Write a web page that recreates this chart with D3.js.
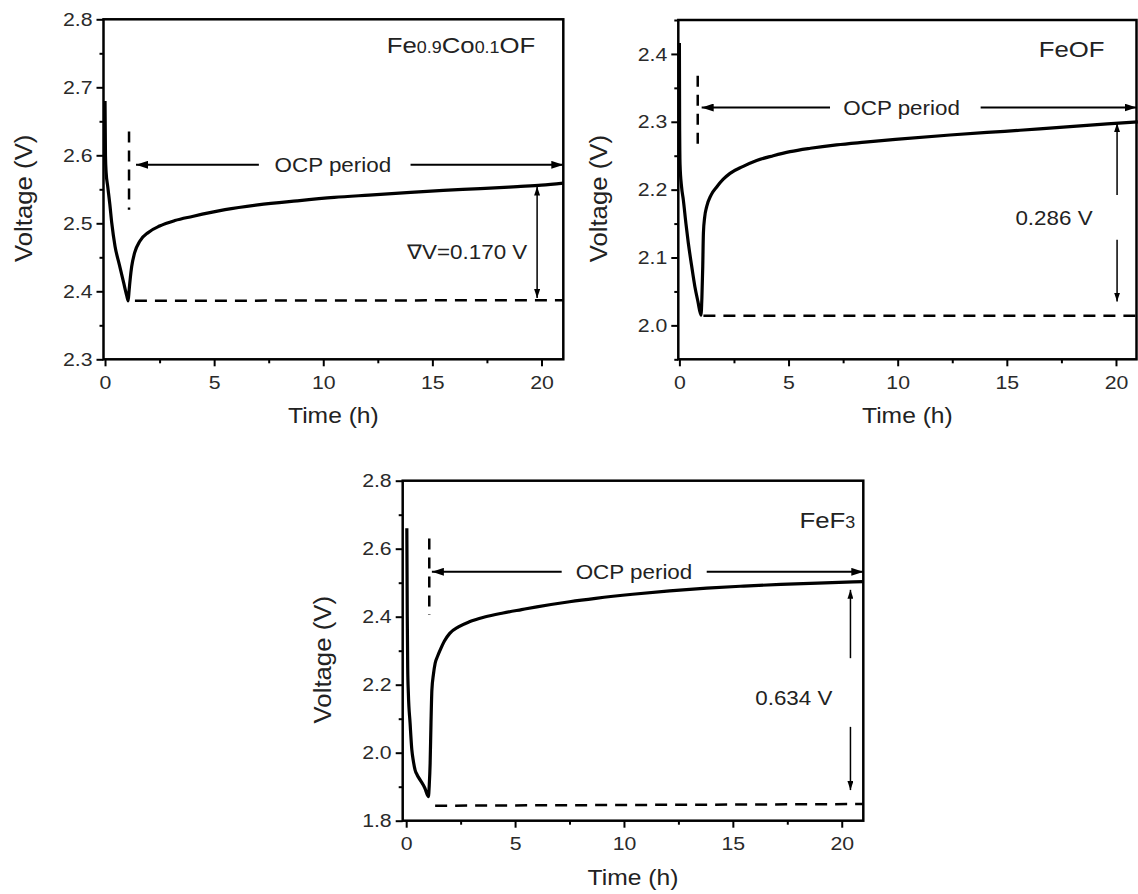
<!DOCTYPE html>
<html>
<head>
<meta charset="utf-8">
<script src="https://cdn.jsdelivr.net/npm/d3@7"></script>
<style>
  body { margin: 0; background: #fff; }
  svg { display: block; font-family: 'Liberation Sans', Arial, sans-serif; }
</style>
</head>
<body>
<div id="root"></div>
<script>
// sample labels, split in normal / small parts
const feCoLabel = [['Fe', false], ['0.9', true], ['Co', false], ['0.1', true], ['OF', false]]
const feofLabel = [['FeOF', false]]
const fef3Label = [['FeF', false], ['3', true]]

const ocpLabel = 'OCP period'
const deltaLabels = ['\u2207V=0.170 V', '0.286 V', '0.634 V']

// axis ticks
const xTicks = [0, 5, 10, 15, 20]
const xMinorTicks = [2.5, 7.5, 12.5, 17.5]
const feCoYTicks = [2.3, 2.4, 2.5, 2.6, 2.7, 2.8]
const feCoYMinor = [2.35, 2.45, 2.55, 2.65, 2.75]
const feofYTicks = [2.0, 2.1, 2.2, 2.3, 2.4]
const feofYMinor = [1.95, 2.05, 2.15, 2.25, 2.35, 2.45]
const fef3YTicks = [1.8, 2.0, 2.2, 2.4, 2.6, 2.8]
const fef3YMinor = [1.9, 2.1, 2.3, 2.5, 2.7]

// Fe0.9Co0.1OF voltage vs time
const feCoTime = [0, 0.02, 0.05, 0.12, 0.22, 0.31, 0.46, 0.65, 0.85, 1.0, 1.06, 1.1, 1.16, 1.22, 1.35, 1.6, 2.0, 2.5, 3.2, 4.0, 5.5, 7.0, 8.8, 10.5, 12.1, 14.0, 15.5, 17.2, 18.9, 20.0, 21.0]
const feCoVoltage = [2.680, 2.600, 2.575, 2.555, 2.528, 2.500, 2.466, 2.440, 2.413, 2.393, 2.386, 2.400, 2.420, 2.436, 2.456, 2.474, 2.487, 2.496, 2.504, 2.510, 2.520, 2.527, 2.533, 2.538, 2.5415, 2.5455, 2.5485, 2.551, 2.554, 2.556, 2.559]

// FeOF voltage vs time
const feofTime = [0, 0.01, 0.03, 0.1, 0.18, 0.3, 0.41, 0.55, 0.71, 0.85, 0.99, 1.03, 1.07, 1.1, 1.16, 1.25, 1.45, 1.71, 2.0, 2.32, 2.9, 3.54, 4.3, 5.07, 6.0, 7.2, 8.5, 9.9, 12.4, 14.9, 16.5, 18.2, 19.6, 21.0]
const feofVoltage = [2.416, 2.300, 2.237, 2.204, 2.185, 2.150, 2.121, 2.090, 2.057, 2.035, 2.015, 2.040, 2.087, 2.136, 2.160, 2.175, 2.192, 2.204, 2.215, 2.224, 2.234, 2.243, 2.250, 2.256, 2.261, 2.266, 2.270, 2.274, 2.2805, 2.286, 2.2895, 2.2935, 2.297, 2.300]

// FeF3 voltage vs time
const fef3Time = [0.03, 0.05, 0.07, 0.1, 0.18, 0.26, 0.33, 0.41, 0.5, 0.64, 0.85, 1.02, 1.06, 1.1, 1.14, 1.18, 1.25, 1.33, 1.45, 1.56, 1.75, 2.0, 2.4, 2.9, 3.6, 4.45, 5.3, 6.0, 7.5, 8.7, 10.4, 12.1, 13.8, 15.5, 17.2, 18.9, 21.0]
const fef3Voltage = [2.660, 2.400, 2.250, 2.175, 2.086, 2.008, 1.975, 1.949, 1.935, 1.920, 1.897, 1.871, 1.905, 1.969, 2.090, 2.184, 2.230, 2.263, 2.285, 2.302, 2.328, 2.351, 2.370, 2.385, 2.399, 2.411, 2.421, 2.429, 2.444, 2.454, 2.466, 2.476, 2.484, 2.490, 2.495, 2.499, 2.503]

// dashed reference levels (time, voltage)
const feCoBase = [[1.37, 2.386], [21.0, 2.387]]
const feofBase = [[1.1, 2.014], [20.94, 2.014]]
const fef3Base = [[1.33, 1.844], [20.99, 1.849]]

const panels = [
  {
    label: feCoLabel,
    delta: deltaLabels[0],
    time: feCoTime,
    voltage: feCoVoltage,
    base: feCoBase,
    yTicks: feCoYTicks,
    yMinor: feCoYMinor,
    left: 103.5, top: 19.3, width: 459.8, height: 340,
    xDomain: [-0.07, 21.0],
    yDomain: [2.3, 2.8],
    labelPos: { dx: -28, dy: 34 },
    marker: { t: 1.1, v: [2.52, 2.635] },
    ocp: { v: 2.586, tip: 1.42, leftEnd: 7.05, text: 10.44, rightStart: 14.0 },
    arrow: { t: 19.8, parts: [[2.39, 2.554]] },
    deltaPos: { t: 16.6, v: 2.458 }
  },
  {
    label: feofLabel,
    delta: deltaLabels[1],
    time: feofTime,
    voltage: feofVoltage,
    base: feofBase,
    yTicks: feofYTicks,
    yMinor: feofYMinor,
    left: 678.3, top: 20, width: 458.2, height: 339.3,
    xDomain: [-0.05, 20.94],
    yDomain: [1.95, 2.45],
    labelPos: { dx: -32, dy: 37 },
    marker: { t: 0.84, v: [2.256, 2.368] },
    ocp: { v: 2.321, tip: 1.02, leftEnd: 6.9, text: 10.18, rightStart: 13.8 },
    arrow: { t: 20.05, parts: [[2.192, 2.298], [2.126, 2.035]] },
    deltaPos: { t: 17.16, v: 2.158 }
  },
  {
    label: fef3Label,
    delta: deltaLabels[2],
    time: fef3Time,
    voltage: fef3Voltage,
    base: fef3Base,
    yTicks: fef3YTicks,
    yMinor: fef3YMinor,
    left: 402.7, top: 480.7, width: 460.6, height: 340,
    xDomain: [-0.16, 20.99],
    yDomain: [1.8, 2.8],
    labelPos: { dx: -8, dy: 47 },
    marker: { t: 1.06, v: [2.405, 2.63] },
    ocp: { v: 2.532, tip: 1.18, leftEnd: 7.14, text: 10.46, rightStart: 13.8 },
    arrow: { t: 20.4, parts: [[2.278, 2.479], [2.076, 1.89]] },
    deltaPos: { t: 17.8, v: 2.16 }
  }
]

// the scanned figure is a bit wider than tall, stretch text the same way
const STRETCH = 1.12

const svg = d3.select('#root')
  .append('svg')
  .attr('width', 1138)
  .attr('height', 894)

const defs = svg.append('defs')
function addMarker (id, w, h, orient) {
  defs.append('marker')
    .attr('id', id)
    .attr('viewBox', `0 0 ${w} ${h}`)
    .attr('refX', w)
    .attr('refY', h / 2)
    .attr('markerWidth', w)
    .attr('markerHeight', h)
    .attr('markerUnits', 'userSpaceOnUse')
    .attr('orient', orient)
    .append('path')
    .attr('d', `M0,0 L${w},${h / 2} L0,${h} Z`)
    .attr('fill', '#000')
}
addMarker('arrowBig', 12, 8, 'auto')
addMarker('arrowSmall', 9, 6, 'auto')
addMarker('arrowSmallStart', 9, 6, 'auto-start-reverse')

// text placed at (x, y), widened like the source scan
function stretchedText (sel, x, y) {
  return sel.append('text')
    .attr('transform', `translate(${x},${y}) scale(${STRETCH},1)`)
}

function styleAxis (sel) {
  sel.select('.domain').remove()
  sel.selectAll('.tick line')
    .attr('stroke', '#000')
    .attr('stroke-width', 2)
  sel.selectAll('.tick text')
    .attr('fill', '#2a2a2a')
    .style('font-size', '19px')
    .style('font-family', "'Liberation Sans', Arial, sans-serif")
}

function drawPanel (p) {
  const bottom = p.top + p.height
  const right = p.left + p.width
  const x = d3.scaleLinear().domain(p.xDomain).range([p.left, right])
  const y = d3.scaleLinear().domain(p.yDomain).range([bottom, p.top])
  const g = svg.append('g')

  // axes, majors and minors
  g.append('g')
    .attr('transform', `translate(0,${bottom})`)
    .call(d3.axisBottom(x).tickValues(xMinorTicks).tickSize(4).tickFormat(''))
    .call(styleAxis)
  const xAxis = g.append('g')
    .attr('transform', `translate(0,${bottom})`)
    .call(d3.axisBottom(x).tickValues(xTicks).tickSize(7).tickPadding(9).tickFormat(d3.format('d')))
    .call(styleAxis)
  xAxis.selectAll('.tick text')
    .attr('transform', `scale(${STRETCH},1)`)
    .attr('x', 0)
  g.append('g')
    .attr('transform', `translate(${p.left},0)`)
    .call(d3.axisLeft(y).tickValues(p.yMinor).tickSize(4).tickFormat(''))
    .call(styleAxis)
  const yAxis = g.append('g')
    .attr('transform', `translate(${p.left},0)`)
    .call(d3.axisLeft(y).tickValues(p.yTicks).tickSize(7).tickPadding(4).tickFormat(d3.format('.1f')))
    .call(styleAxis)
  yAxis.selectAll('.tick text')
    .attr('x', null)
    .attr('transform', `translate(-11,0) scale(${STRETCH},1)`)

  g.append('rect')
    .attr('x', p.left)
    .attr('y', p.top)
    .attr('width', p.width)
    .attr('height', p.height)
    .attr('fill', 'none')
    .attr('stroke', '#000')
    .attr('stroke-width', 2.5)

  // axis titles
  stretchedText(g, (p.left + right) / 2, bottom + 64)
    .attr('text-anchor', 'middle')
    .attr('fill', '#222')
    .style('font-size', '22px')
    .text('Time (h)')
  g.append('text')
    .attr('transform', `translate(${p.left - 80},${(p.top + bottom) / 2 + 9}) rotate(-90) scale(1.12,1.08)`)
    .attr('text-anchor', 'middle')
    .attr('dy', '0.35em')
    .attr('fill', '#222')
    .style('font-size', '23px')
    .text('Voltage (V)')

  const line = d3.line()
    .x(d => x(d[0]))
    .y(d => y(d[1]))
  const smooth = d3.line()
    .x(d => x(d[0]))
    .y(d => y(d[1]))
    .curve(d3.curveMonotoneX)

  // voltage curve
  g.append('path')
    .datum(d3.zip(p.time, p.voltage))
    .attr('d', smooth)
    .attr('fill', 'none')
    .attr('stroke', '#000')
    .attr('stroke-width', 3.2)
    .attr('stroke-linejoin', 'round')

  // dashed lines
  g.append('path')
    .datum(p.base)
    .attr('d', line)
    .attr('fill', 'none')
    .attr('stroke', '#000')
    .attr('stroke-width', 2.5)
    .attr('stroke-dasharray', '12,8')
  g.append('path')
    .datum([[p.marker.t, p.marker.v[1]], [p.marker.t, p.marker.v[0]]])
    .attr('d', line)
    .attr('fill', 'none')
    .attr('stroke', '#000')
    .attr('stroke-width', 2.5)
    .attr('stroke-dasharray', '11,8')

  // OCP period arrows
  g.append('path')
    .datum([[p.ocp.leftEnd, p.ocp.v], [p.ocp.tip, p.ocp.v]])
    .attr('d', line)
    .attr('stroke', '#000')
    .attr('stroke-width', 2)
    .attr('marker-end', 'url(#arrowBig)')
  g.append('path')
    .datum([[p.ocp.rightStart, p.ocp.v], [p.xDomain[1], p.ocp.v]])
    .attr('d', line)
    .attr('stroke', '#000')
    .attr('stroke-width', 2)
    .attr('marker-end', 'url(#arrowBig)')
  stretchedText(g, x(p.ocp.text), y(p.ocp.v))
    .attr('dy', '0.35em')
    .attr('text-anchor', 'middle')
    .attr('fill', '#222')
    .style('font-size', '20px')
    .text(ocpLabel)

  // voltage gap arrows
  g.selectAll('path.gap')
    .data(p.arrow.parts)
    .join('path')
    .attr('class', 'gap')
    .attr('d', d => line([[p.arrow.t, d[0]], [p.arrow.t, d[1]]]))
    .attr('stroke', '#000')
    .attr('stroke-width', 1.5)
    .attr('marker-end', 'url(#arrowSmall)')
    .attr('marker-start', d => p.arrow.parts.length === 1 ? 'url(#arrowSmallStart)' : null)
  stretchedText(g, x(p.deltaPos.t), y(p.deltaPos.v))
    .attr('dy', '0.35em')
    .attr('text-anchor', 'middle')
    .attr('fill', '#222')
    .style('font-size', '20px')
    .text(p.delta)

  // sample name
  const label = stretchedText(g, right + p.labelPos.dx, p.top + p.labelPos.dy)
    .attr('text-anchor', 'end')
    .attr('fill', '#222')
    .style('font-size', '23px')
  label.selectAll('tspan')
    .data(p.label)
    .join('tspan')
    .style('font-size', d => d[1] ? '16px' : '23px')
    .text(d => d[0])
}

panels.forEach(drawPanel)
</script>
</body>
</html>
